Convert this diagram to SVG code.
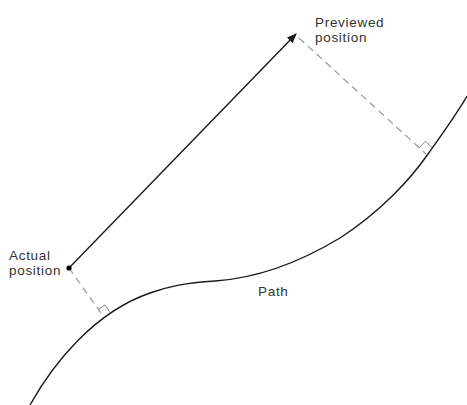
<svg xmlns="http://www.w3.org/2000/svg" width="467" height="405" viewBox="0 0 467 405">
<style>
.lbl{font-family:"Liberation Sans",Arial,sans-serif;font-size:13.5px;letter-spacing:0.7px;fill:#333}
.solid{fill:none;stroke:#1a1a1a;stroke-width:1.4}
.dash{fill:none;stroke:#999;stroke-width:1.2;stroke-dasharray:7,5}
.ra{fill:none;stroke:#888;stroke-width:1}
</style>
<defs>
<marker id="ah" markerWidth="10" markerHeight="8" refX="9" refY="4" orient="auto" markerUnits="userSpaceOnUse">
<path d="M0,0 L10,4 L0,8 z" fill="#1a1a1a"/>
</marker>
</defs>
<g id="connectors">
<path id="path-curve" class="solid" d="M30,405 C54,362 95,312 150,293 C170,286 185,283 215,281 C260,278 300,262 340,238 C380,212 410,180 428,154 C445,130 458,112 467,96"/>
<line id="move-arrow" class="solid" x1="69" y1="268" x2="296" y2="34" marker-end="url(#ah)"/>
<line class="dash" x1="299" y1="38" x2="426" y2="154"/>
<line class="dash" x1="69" y1="268" x2="103" y2="316"/>
<path class="ra" d="M98.4,309.5 L104.9,304.9 L109.5,311.4"/>
<path class="ra" d="M419.3,148 L425.2,141.3 L432,147.3"/>
</g>
<g id="actual">
<circle cx="69" cy="268" r="2.6" fill="#000"/>
<text class="lbl" x="9" y="260">Actual</text>
<text class="lbl" x="9" y="275">position</text>
</g>
<g id="previewed">
<text class="lbl" x="315" y="27">Previewed</text>
<text class="lbl" x="315" y="42">position</text>
</g>
<g id="path-label">
<text class="lbl" x="258" y="296">Path</text>
</g>
</svg>
